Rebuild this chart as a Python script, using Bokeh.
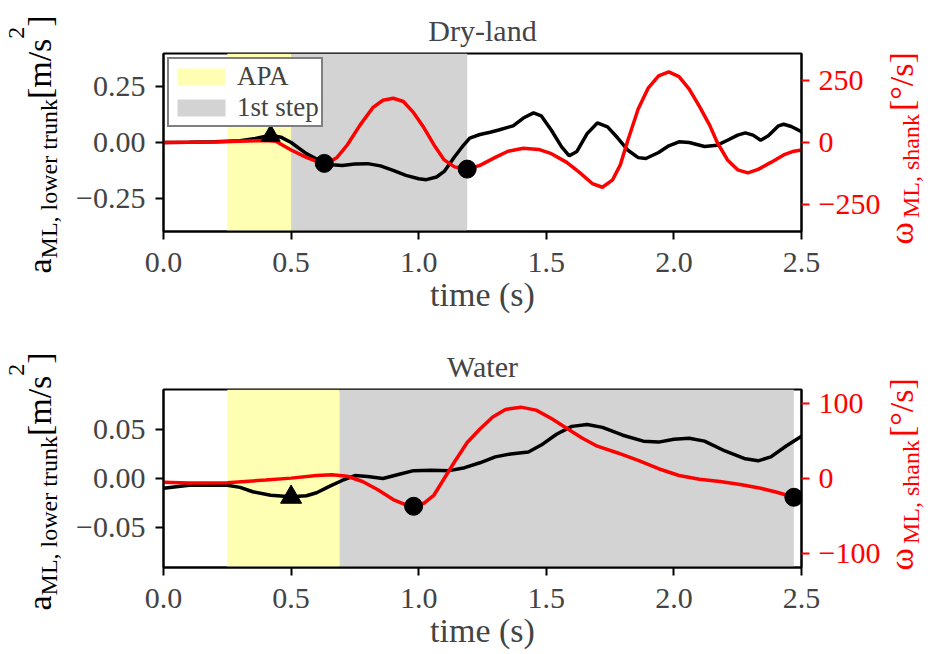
from math import pi
from bokeh.plotting import figure
from bokeh.models import Range1d, LinearAxis, FixedTicker, Label
from bokeh.layouts import column, row
from bokeh.embed import file_html
from bokeh.resources import INLINE

# ---------------- data ----------------
x_ticks = [0.0, 0.5, 1.0, 1.5, 2.0, 2.5]
x_tick_labels = ["0.0", "0.5", "1.0", "1.5", "2.0", "2.5"]

# Dry-land panel
dry_acc_t = [0.00, 0.10, 0.20, 0.30, 0.36, 0.42, 0.46, 0.50, 0.56, 0.62, 0.66, 0.70, 0.75,
             0.80, 0.85, 0.90, 0.95, 1.00, 1.03, 1.07, 1.10, 1.14, 1.17, 1.20, 1.24, 1.28,
             1.31, 1.37, 1.41, 1.45, 1.48, 1.52, 1.56, 1.59, 1.62, 1.66, 1.70, 1.74, 1.78,
             1.82, 1.86, 1.89, 1.94, 1.98, 2.02, 2.06, 2.12, 2.17, 2.21, 2.25, 2.28, 2.31,
             2.34, 2.37, 2.41, 2.43, 2.46, 2.50]
dry_acc = [0.000, 0.001, 0.003, 0.008, 0.018, 0.033, 0.024, 0.000, -0.050, -0.087, -0.100,
           -0.103, -0.097, -0.095, -0.105, -0.125, -0.148, -0.163, -0.167, -0.155, -0.130,
           -0.065, -0.020, 0.020, 0.036, 0.046, 0.055, 0.075, 0.110, 0.133, 0.120, 0.055,
           -0.020, -0.060, -0.040, 0.040, 0.088, 0.070, 0.020, -0.035, -0.068, -0.072,
           -0.045, -0.015, 0.003, 0.000, -0.018, -0.012, 0.010, 0.033, 0.043, 0.033, 0.010,
           0.030, 0.075, 0.082, 0.072, 0.048]
dry_gyr_t = [0.00, 0.20, 0.30, 0.40, 0.44, 0.50, 0.56, 0.60, 0.64, 0.68, 0.72, 0.77, 0.82,
             0.86, 0.90, 0.94, 0.98, 1.02, 1.06, 1.10, 1.14, 1.19, 1.24, 1.30, 1.35, 1.41,
             1.47, 1.52, 1.58, 1.63, 1.68, 1.72, 1.76, 1.79, 1.82, 1.86, 1.90, 1.94, 1.98,
             2.02, 2.06, 2.10, 2.14, 2.17, 2.21, 2.25, 2.29, 2.33, 2.38, 2.43, 2.47, 2.50]
dry_gyr = [0, 2, 5, 8, 5, -30, -60, -76, -84, -60, -10, 70, 140, 170, 178, 165, 120, 60,
           -10, -70, -98, -107, -92, -60, -35, -23, -28, -45, -80, -120, -165, -180, -150,
           -90, 10, 135, 220, 268, 284, 265, 215, 145, 70, 0, -70, -110, -122, -108, -80,
           -50, -35, -30]
dry_apa = [0.25, 0.50]
dry_step = [0.50, 1.19]
dry_tri_t, dry_tri_acc = [0.42], [0.030]
dry_dot_t, dry_dot_gyr = [0.63, 1.19], [-84, -107]

# Water panel
wat_acc_t = [0.00, 0.10, 0.20, 0.25, 0.30, 0.35, 0.42, 0.50, 0.56, 0.60, 0.65, 0.70, 0.75,
             0.80, 0.86, 0.92, 0.98, 1.05, 1.12, 1.18, 1.24, 1.30, 1.36, 1.43, 1.48, 1.54,
             1.60, 1.66, 1.72, 1.80, 1.88, 1.94, 2.00, 2.06, 2.12, 2.20, 2.28, 2.33, 2.38,
             2.44, 2.50]
wat_acc = [-0.010, -0.0068, -0.0065, -0.0068, -0.009, -0.0135, -0.017, -0.0185, -0.0175,
           -0.0145, -0.008, -0.002, 0.003, 0.002, 0.000, 0.004, 0.008, 0.0085, 0.008, 0.011,
           0.016, 0.022, 0.025, 0.027, 0.034, 0.045, 0.053, 0.055, 0.052, 0.044, 0.038,
           0.037, 0.040, 0.041, 0.038, 0.028, 0.020, 0.018, 0.022, 0.033, 0.043]
wat_gyr_t = [0.00, 0.10, 0.25, 0.40, 0.50, 0.60, 0.66, 0.72, 0.78, 0.84, 0.90, 0.95, 0.98,
             1.02, 1.06, 1.10, 1.14, 1.19, 1.24, 1.29, 1.34, 1.40, 1.46, 1.52, 1.58, 1.64,
             1.70, 1.78, 1.86, 1.94, 2.02, 2.10, 2.18, 2.26, 2.34, 2.40, 2.47]
wat_gyr = [-5, -6, -5.5, -2, 0.5, 4, 5, 3, -4, -15, -28, -35, -37, -33, -22, 0, 22, 48, 66,
           82, 92, 95, 91, 80, 67, 54, 43, 34, 24, 13, 4, -1, -4, -8, -13, -18, -25]
wat_apa = [0.25, 0.69]
wat_step = [0.69, 2.47]
wat_tri_t, wat_tri_acc = [0.50], [-0.019]
wat_dot_t, wat_dot_gyr = [0.98, 2.47], [-37, -25]

dry_acc_ticks = [-0.25, 0.0, 0.25]
dry_acc_labels = ["\u22120.25", "0.00", "0.25"]
dry_gyr_ticks = [-250, 0, 250]
dry_gyr_labels = ["\u2212250", "0", "250"]
wat_acc_ticks = [-0.05, 0.0, 0.05]
wat_acc_labels = ["\u22120.05", "0.00", "0.05"]
wat_gyr_ticks = [-100, 0, 100]
wat_gyr_labels = ["\u2212100", "0", "100"]

# ---------------- styling / layout ----------------
FONT = "Liberation Serif"
LW, RW = 70, 48                 # widths of the side strips holding the rotated y labels
ML, FW, MR = 93, 638, 82        # main figure: left border, frame width, right border
FH = 178
BIG, SMALL = 34, 24
TICK_FS = "30px"

# Times / Liberation Serif advance widths (em)
CW = {"a": .444, "M": .889, "L": .611, ",": .25, " ": .25, "l": .278, "o": .5, "w": .722,
      "e": .444, "r": .333, "t": .278, "u": .5, "n": .5, "k": .5, "[": .333, "m": .778,
      "/": .278, "s": .389, "2": .5, "]": .333, "h": .5, "\u00b0": .4, "\u03c9": .69}


def tw(s, size):
    return sum(CW.get(c, 0.5) for c in s) * size


def strip(width, height):
    s = figure(width=width, height=height, x_range=Range1d(0, width),
               y_range=Range1d(0, height), output_backend="svg", toolbar_location=None,
               x_axis_type=None, y_axis_type=None, min_border=0, min_border_left=0,
               min_border_right=0, min_border_top=0, min_border_bottom=0,
               frame_align=False)
    s.outline_line_color = None
    s.xgrid.visible = False
    s.ygrid.visible = False
    s.background_fill_color = "white"
    s.border_fill_color = "white"
    return s


def put_pieces(s, height, pieces, color):
    # y given in pixels from the top of the strip; text rotated to read bottom-to-top
    for text, size, x, y in pieces:
        s.add_layout(Label(x=x, y=height - y, x_units="data", y_units="data", text=text,
                           angle=pi / 2, angle_units="rad", text_align="left",
                           text_baseline="alphabetic", text_font=FONT,
                           text_font_size=f"{size}px", text_color=color))


def left_strip(height, y0):
    s = strip(LW, height)
    parts, y = [], y0
    for text, size, x in [("a", BIG, 39), ("ML, lower trunk", SMALL, 48),
                          ("[m/s", BIG, 39), ("2", SMALL, 16), ("]", BIG, 39)]:
        parts.append((text, size, x, y))
        y -= tw(text, size)
    put_pieces(s, height, parts, "black")
    return s


def right_strip(height, y0):
    s = strip(RW, height)
    parts, y = [], y0
    for text, size, x, gap in [("\u03c9", BIG, 18, 3), ("ML, shank", SMALL, 27, 3),
                               ("[\u00b0/s]", BIG, 18, 0)]:
        parts.append((text, size, x, y))
        y -= tw(text, size) + gap
    put_pieces(s, height, parts, "red")
    return s


def make_panel(title, height, ftop, ylim, wlim, yt, yl, wt, wl):
    p = figure(width=ML + FW + MR, height=height, x_range=Range1d(0, 2.5),
               y_range=Range1d(*ylim), output_backend="svg", toolbar_location=None,
               min_border_left=ML, min_border_right=MR,
               min_border_top=ftop, min_border_bottom=height - ftop - FH)
    p.extra_y_ranges = {"w": Range1d(*wlim)}
    p.xgrid.visible = False
    p.ygrid.visible = False
    p.outline_line_color = "black"
    p.outline_line_width = 2
    p.background_fill_color = "white"
    p.border_fill_color = "white"
    p.title.text = title
    p.title.align = "center"
    p.title.text_font = FONT
    p.title.text_font_size = "30px"
    p.title.text_font_style = "normal"
    p.title.standoff = 13

    raxis = LinearAxis(y_range_name="w")
    p.add_layout(raxis, "right")

    p.xaxis.ticker = FixedTicker(ticks=x_ticks)
    p.xaxis.major_label_overrides = dict(zip(x_ticks, x_tick_labels))
    p.xaxis.axis_label = "time (s)"
    p.xaxis.axis_label_text_font = FONT
    p.xaxis.axis_label_text_font_size = f"{BIG}px"
    p.xaxis.axis_label_text_font_style = "normal"
    p.xaxis.axis_label_standoff = 1
    p.yaxis[0].ticker = FixedTicker(ticks=yt)
    p.yaxis[0].major_label_overrides = dict(zip(yt, yl))
    raxis.ticker = FixedTicker(ticks=wt)
    raxis.major_label_overrides = dict(zip(wt, wl))

    for ax in [p.xaxis[0], p.yaxis[0], raxis]:
        ax.major_label_text_font = FONT
        ax.major_label_text_font_size = TICK_FS
        ax.major_tick_out = 8
        ax.major_tick_in = 0
        ax.minor_tick_out = 0
        ax.minor_tick_in = 0
        ax.axis_line_width = 2
        ax.axis_line_color = "black"
        ax.major_tick_line_width = 2
    p.xaxis[0].major_label_standoff = 13
    p.yaxis[0].major_label_standoff = 10
    raxis.major_label_standoff = 9
    raxis.major_tick_line_color = "red"
    raxis.major_label_text_color = "red"
    return p


# ---------------- Dry-land ----------------
H1, FT1 = 318, 53
ylim1, wlim1 = (-0.4, 0.4), (-358, 358)
p1 = make_panel("Dry-land", H1, FT1, ylim1, wlim1, dry_acc_ticks, dry_acc_labels,
                dry_gyr_ticks, dry_gyr_labels)
p1.quad(left=[dry_apa[0]], right=[dry_apa[1]], bottom=[ylim1[0]], top=[ylim1[1]],
        fill_color="#ffffb3", line_color=None, legend_label="APA")
p1.quad(left=[dry_step[0]], right=[dry_step[1]], bottom=[ylim1[0]], top=[ylim1[1]],
        fill_color="#d3d3d3", line_color=None, legend_label="1st step")
p1.line(dry_acc_t, dry_acc, line_width=3.5, color="black")
p1.line(dry_gyr_t, dry_gyr, line_width=3.5, color="red", y_range_name="w")
p1.scatter(dry_tri_t, dry_tri_acc, marker="triangle", size=19, color="black")
p1.scatter(dry_dot_t, dry_dot_gyr, marker="circle", size=18, color="black", y_range_name="w")

lg = p1.legend[0]
lg.location = "top_left"
lg.margin = 4
lg.padding = 2
lg.spacing = 0
lg.glyph_width = 60
lg.glyph_height = 21
lg.label_height = 21
lg.label_standoff = 6
lg.label_text_font = FONT
lg.label_text_font_size = "27px"
lg.label_text_line_height = 1.0
lg.border_line_color = "black"
lg.border_line_width = 2
lg.background_fill_alpha = 1.0

row1 = row(left_strip(H1, 273), p1, right_strip(H1, 244), spacing=0)

# ---------------- Water ----------------
H2, FT2 = 336, 71
ylim2, wlim2 = (-0.0905, 0.0905), (-118.5, 118.5)
p2 = make_panel("Water", H2, FT2, ylim2, wlim2, wat_acc_ticks, wat_acc_labels,
                wat_gyr_ticks, wat_gyr_labels)
p2.quad(left=[wat_apa[0]], right=[wat_apa[1]], bottom=[ylim2[0]], top=[ylim2[1]],
        fill_color="#ffffb3", line_color=None)
p2.quad(left=[wat_step[0]], right=[wat_step[1]], bottom=[ylim2[0]], top=[ylim2[1]],
        fill_color="#d3d3d3", line_color=None)
p2.line(wat_acc_t, wat_acc, line_width=3.5, color="black")
p2.line(wat_gyr_t, wat_gyr, line_width=3.5, color="red", y_range_name="w")
p2.scatter(wat_tri_t, wat_tri_acc, marker="triangle", size=21, color="black")
p2.scatter(wat_dot_t, wat_dot_gyr, marker="circle", size=18, color="black", y_range_name="w")

row2 = row(left_strip(H2, 610 - H1), p2, right_strip(H2, 570 - H1), spacing=0)

layout = column(row1, row2, spacing=0)
open("out.html", "w").write(file_html(layout, INLINE))
